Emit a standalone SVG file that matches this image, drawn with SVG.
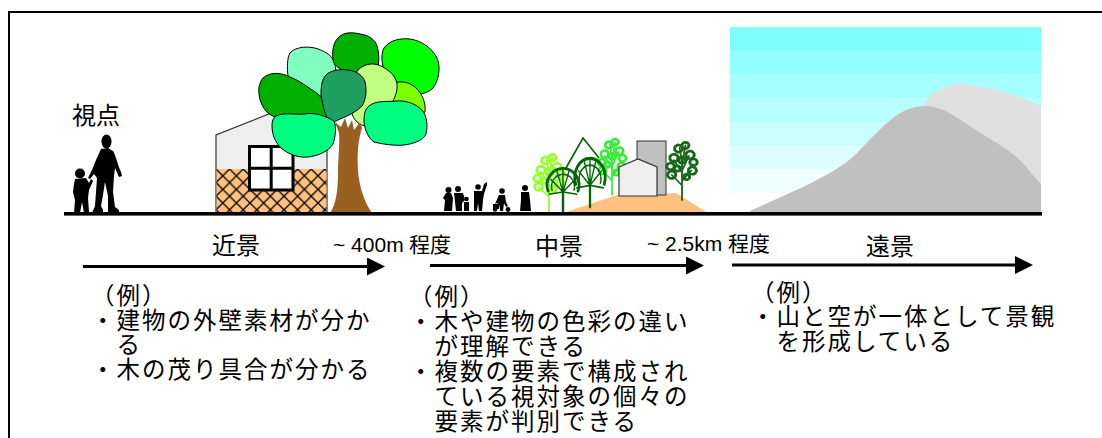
<svg xmlns="http://www.w3.org/2000/svg" width="1102" height="438" viewBox="0 0 1102 438">
  <style>
    .jp { font-family: "Noto Sans CJK JP", sans-serif; fill: #000; }
    .body { font-size: 23.5px; letter-spacing: 2px; }
    .head { font-size: 24px; }
    .dist { font-family: "Liberation Sans", "Noto Sans CJK JP", sans-serif; font-size: 21px; fill: #000; }
    .leaf { stroke: #000; stroke-width: 1; }
    .axis { stroke: #000; stroke-width: 3; fill: none; }
    .tree { fill: none; stroke: currentColor; stroke-linecap: round; }
    .tuft { fill: none; stroke: currentColor; stroke-width: 2.6; stroke-dasharray: 1.6 1.3; }
  </style>
  <defs>
    <pattern id="lattice" patternUnits="userSpaceOnUse" x="216" y="169" width="13.6" height="13.6">
      <rect width="13.6" height="13.6" fill="#FFC080"/>
      <path d="M0,0 L13.6,13.6 M13.6,0 L0,13.6" stroke="#000" stroke-width="1.3"/>
    </pattern>
    <marker id="head" markerUnits="userSpaceOnUse" markerWidth="20" markerHeight="20" refX="8" refY="9" orient="auto">
      <path d="M0,0 L18,9 L0,18 Z" fill="#000"/>
    </marker>
    <!-- leafy branching tree, base at origin -->
    <g id="twig" class="tree">
      <path d="M0,0 V-36 M0,-14 L-9,-24 M0,-18 L8,-28 M0,-26 L-7,-38 M0,-28 L6,-42 M0,-34 L-2,-50 M0,-34 L3,-52" stroke-width="1.6"/>
      <g class="tuft">
        <circle cx="-9" cy="-24" r="3.5"/>
        <circle cx="9" cy="-28" r="3.5"/>
        <circle cx="-10" cy="-32" r="3.2"/>
        <circle cx="10" cy="-36" r="3.2"/>
        <circle cx="-7" cy="-40" r="3.6"/>
        <circle cx="7" cy="-43" r="3.6"/>
        <circle cx="-3" cy="-49" r="3.4"/>
        <circle cx="3" cy="-52" r="3"/>
        <circle cx="0" cy="-38" r="3"/>
        <circle cx="-4" cy="-30" r="2.6"/>
        <circle cx="4" cy="-22" r="2.6"/>
      </g>
    </g>
    <!-- umbrella-crowned tree, base at origin -->
    <g id="brolly" class="tree">
      <path d="M0,0 V-20" stroke-width="2.4"/>
      <path d="M-15,-19 A16,16 0 1 1 15,-19" stroke-width="2.8"/>
      <path d="M-11,-20 A11.5,11.5 0 1 1 11,-20" stroke-width="1.6" stroke-dasharray="2 1.4"/>
      <path d="M0,-18 L-14,-16 M0,-18 L-12,-30 M0,-18 L-6,-38 M0,-18 L0,-40 M0,-18 L6,-38 M0,-18 L12,-30 M0,-18 L14,-16" stroke-width="1.4"/>
    </g>
  </defs>

  <rect width="1102" height="438" fill="#fff"/>

  <!-- outer frame -->
  <g id="frame">
    <path d="M1102,12 H9 V438" fill="none" stroke="#000" stroke-width="2"/>
  </g>

  <!-- distant view: banded sky and mountains -->
  <g id="far-scene">
    <rect x="730" y="27" width="311" height="24" fill="#80FFFF"/>
    <rect x="730" y="50.7" width="311" height="24" fill="#93FFFF"/>
    <rect x="730" y="74.4" width="311" height="24" fill="#A5FFFF"/>
    <rect x="730" y="98.1" width="311" height="24" fill="#B8FFFF"/>
    <rect x="730" y="121.9" width="311" height="24" fill="#CAFFFF"/>
    <rect x="730" y="145.6" width="311" height="24" fill="#DDFFFF"/>
    <rect x="730" y="169.3" width="311" height="23.7" fill="#EFFFFF"/>
    <path d="M922,107 C928,98 935,90 945,87 C952,84 958,83 965,84 C975,85 990,88 1005,92 C1018,96 1030,101 1041,106 L1041,200 L922,200 Z" fill="#E0E0E0"/>
    <path d="M750,211 L803,187 C825,176 845,165 855,155 C866,144 880,128 893,118 C903,110 914,106 925,106 C935,106 945,110 953,115 L987,137 C1000,145 1008,150 1013,154 C1022,162 1028,168 1032,174 L1041,184 L1041,213 L750,213 Z" fill="#C0C0C0"/>
  </g>

  <!-- middle distance: mound, trees, building, people -->
  <g id="mid-scene">
    <path d="M563,213 L617,195 L676,193 L708,213 Z" fill="#FFC080"/>
    <polyline points="566,168 583,138 599,158" fill="none" stroke="#006600" stroke-width="1.6"/>
    <use href="#twig" transform="translate(549,212) scale(1.15,1.05)" color="#99FF33"/>
    <use href="#twig" transform="translate(612,195) scale(1.05,1.02)" color="#33EE33"/>
    <use href="#brolly" transform="translate(590,207) scale(0.95,1.2)" color="#006600"/>
    <use href="#brolly" transform="translate(563,211) scale(1,1.05)" color="#006600"/>
    <rect x="637" y="141" width="29" height="54" fill="#C0C0C0" stroke="#333" stroke-width="1"/>
    <path d="M619,167 L638,159 L657,167 V196 H619 Z" fill="#EEEEEE" stroke="#333" stroke-width="1.2"/>
    <use href="#twig" transform="translate(682,200) scale(1.15,1.05)" color="#1A661A"/>
    <g fill="#000">
      <circle cx="448.5" cy="190" r="3"/>
      <path d="M444,211 L445,200 L443,198 L446,193 L451,193 L453,198 L452,211 Z"/>
      <circle cx="458" cy="189" r="3"/>
      <path d="M454,193 L463,193 L465,200 L462,203 L462,211 L456,211 L455,202 Z"/>
      <circle cx="466.5" cy="199" r="2.3"/>
      <path d="M464,202 L469,202 L469,211 L464,211 Z"/>
      <circle cx="478" cy="187" r="2.8"/>
      <path d="M474,191 L482,191 L484,184 L487,182 L487,185 L484,194 L483,200 L482,211 L479,211 L478,203 L477,211 L474,211 L474,200 Z"/>
      <circle cx="502" cy="191" r="2.8"/>
      <path d="M499,195 L505,195 L506,202 L508,206 L506,207 L504,203 L503,211 L500,211 L500,205 L497,203 L495,204 Z"/>
      <path d="M493,204 L500,204 L499,209 L493,209 Z"/>
      <circle cx="495" cy="209.5" r="2.2"/>
      <circle cx="508" cy="209.5" r="2.4"/>
      <circle cx="525" cy="188" r="3"/>
      <path d="M521,192 L529,192 L530,200 L531,211 L520,211 L521,200 Z"/>
    </g>
  </g>

  <!-- near view: house -->
  <g id="house">
    <path d="M216,213 V135 L271.5,113 L327,135 V213 Z" fill="#EEEEEE" stroke="#333" stroke-width="1.2"/>
    <rect x="216.6" y="169" width="109.8" height="44" fill="url(#lattice)"/>
    <rect x="249.5" y="146.5" width="43.5" height="43.5" fill="#fff" stroke="#000" stroke-width="3"/>
    <path d="M271.2,146.5 V190 M249.5,168.2 H293" stroke="#000" stroke-width="3"/>
  </g>

  <!-- near view: tree -->
  <g id="tree">
    <path class="leaf" fill="#80FFC0" d="M290,53 C296,46 310,46 318,49 C326,52 333,56 335,64 C337,74 336,84 333,90 C325,97 312,98 303,96 C295,93 289,86 288,76 C287,68 287,58 290,53 Z"/>
    <path class="leaf" fill="#00B000" d="M338,38 C343,32 352,32 360,34 C368,35 375,39 377,46 C380,55 379,66 376,74 C368,77 358,76 350,73 C342,70 334,67 333,60 C332,52 333,43 338,38 Z"/>
    <path class="leaf" fill="#00FF00" d="M384,48 C390,40 400,38 410,39 C422,41 432,48 437,58 C441,67 439,80 433,88 C428,93 421,95 414,93 C404,89 394,84 388,77 C382,69 380,56 384,48 Z"/>
    <path class="leaf" fill="#80FF00" d="M392,84 C400,80 410,82 416,88 C422,94 426,102 425,112 C418,118 404,118 396,114 C390,106 388,92 392,84 Z"/>
    <path class="leaf" fill="#00B000" d="M263,78 C270,72 280,72 290,77 C298,80 308,87 318,94 C324,100 328,110 327,119 C318,122 306,122 296,121 C284,120 272,118 266,111 C260,104 258,94 259,87 C260,83 261,80 263,78 Z"/>
    <path class="leaf" fill="#C0FF80" d="M358,70 C364,64 373,62 381,66 C389,70 396,76 397,84 C398,92 394,98 392,104 C388,112 378,120 370,125 C362,128 355,122 352,114 C350,104 351,92 353,84 C354,78 355,73 358,70 Z"/>
    <path class="leaf" fill="#20A060" d="M326,75 C331,70 340,69 348,70 C356,71 363,75 365,82 C367,90 366,100 362,106 C356,112 348,116 340,119 C334,122 330,124 328,120 C324,112 322,102 321,94 C321,86 322,79 326,75 Z"/>
    <path fill="#9C5F22" d="M330,213 C336,205 338,190 338,172 C338,158 340,145 339,133 L335,122 L341,127 L345,118 L348,128 L352,120 L354,130 L360,122 L362,128 C358,140 357,155 358,170 C359,188 366,205 372,213 Z"/>
    <path class="leaf" fill="#00FF80" d="M276,116 C284,112 296,115 304,114 C314,112 326,116 334,121 C337,128 335,138 333,144 C329,151 318,156 308,157 C298,158 288,154 281,148 C275,142 272,134 272,126 C272,121 273,118 276,116 Z"/>
    <path class="leaf" fill="#00FF80" d="M369,106 C376,100 388,102 396,101 C406,100 416,104 422,110 C427,116 428,126 426,134 C423,141 412,144 404,145 C394,146 382,144 374,142 C368,138 365,130 364,122 C364,114 365,109 369,106 Z"/>
  </g>

  <!-- viewpoint: adult and child -->
  <g id="viewpoint">
    <text class="jp" x="72" y="124" font-size="24">視点</text>
    <g fill="#000">
      <ellipse cx="106.5" cy="141.5" rx="5" ry="7"/>
      <path d="M101,149 L108,148 L113,151 C116,156 118,166 121,172 L122,176 L119,177 L115,168 L114,176 L113,192 L115,207 L119,210 L119,213 L108,213 L108,196 L105,182 L103,195 L101,206 L103,210 L103,213 L92,213 L95,206 L96,192 L97,178 L94,174 L90,179 L88,178 L92,170 L96,160 Z"/>
      <circle cx="80" cy="173.5" r="5"/>
      <path d="M75,179 L86,178 L89,183 L91,179 L93,181 L89,190 L88,198 L89,212 L84,213 L82,202 L80,213 L74,213 L75,200 L73,192 L74,184 Z"/>
    </g>
  </g>

  <!-- ground line -->
  <g id="ground">
    <rect x="64" y="212" width="978" height="3.6" fill="#000"/>
  </g>

  <!-- distance axis -->
  <g id="connectors">
    <line class="axis" x1="83" y1="266.5" x2="375" y2="266.5" marker-end="url(#head)"/>
    <line class="axis" x1="430" y1="265.5" x2="694" y2="265.5" marker-end="url(#head)"/>
    <line class="axis" x1="732" y1="265" x2="1023" y2="265" marker-end="url(#head)"/>
  </g>

  <g id="label-near">
    <text class="jp head" x="212" y="254">近景</text>
    <text class="dist" x="333" y="252">~ 400m<tspan x="409">程度</tspan></text>
  </g>
  <g id="label-mid">
    <text class="jp head" x="535" y="255">中景</text>
    <text class="dist" x="647" y="251">~ 2.5km 程度</text>
  </g>
  <g id="label-far">
    <text class="jp head" x="866" y="255">遠景</text>
  </g>

  <g id="notes-near">
    <text class="jp body"><tspan x="91" y="304">（例）</tspan><tspan x="91" y="328.5">・建物の外壁素材が分か</tspan><tspan x="116.5" y="353">る</tspan><tspan x="91" y="377.5">・木の茂り具合が分かる</tspan></text>
  </g>
  <g id="notes-mid">
    <text class="jp body"><tspan x="409" y="305">（例）</tspan><tspan x="409" y="330">・木や建物の色彩の違い</tspan><tspan x="434.5" y="355">が理解できる</tspan><tspan x="409" y="380">・複数の要素で構成され</tspan><tspan x="434.5" y="405">ている視対象の個々の</tspan><tspan x="434.5" y="430">要素が判別できる</tspan></text>
  </g>
  <g id="notes-far">
    <text class="jp body"><tspan x="751" y="301">（例）</tspan><tspan x="751" y="325">・山と空が一体として景観</tspan><tspan x="776.5" y="349.5">を形成している</tspan></text>
  </g>
</svg>
